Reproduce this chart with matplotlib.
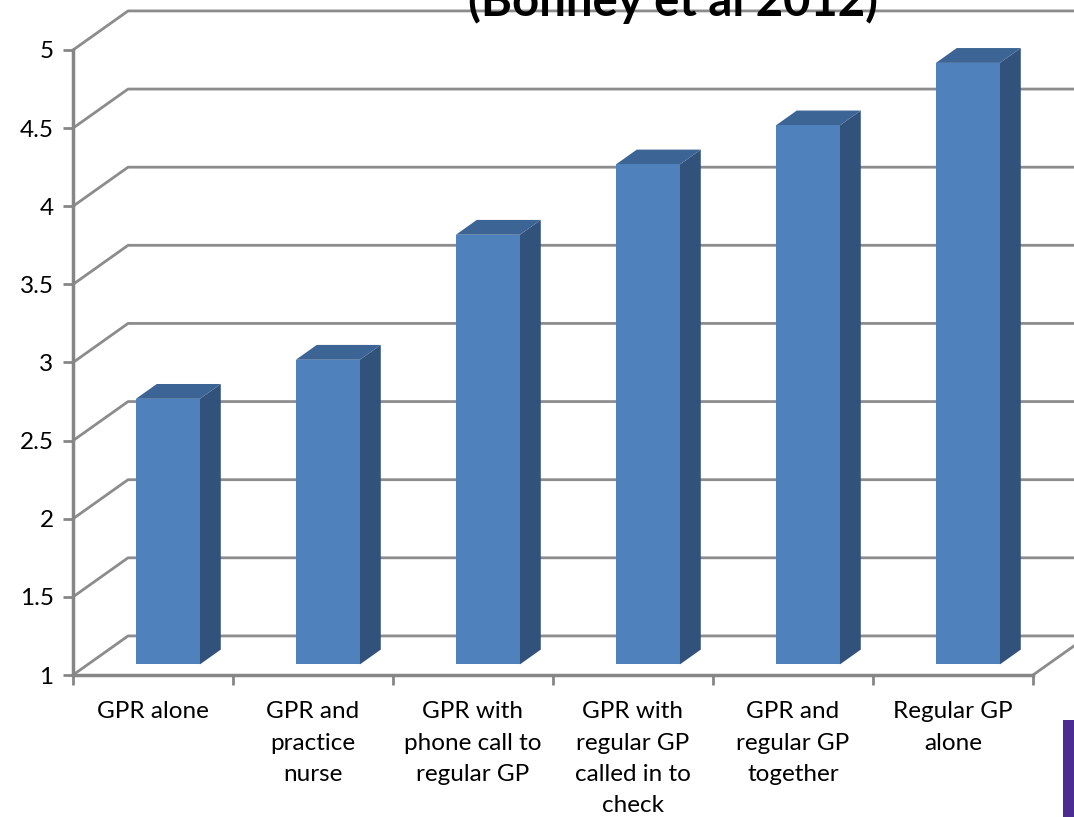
import numpy as np
import matplotlib
matplotlib.use('Agg')
import matplotlib.pyplot as plt
from matplotlib.patches import Polygon, Rectangle

plt.rcParams['font.family'] = ['Lato', 'DejaVu Sans']

# data
categories = ['GPR alone', 'GPR and\npractice\nnurse', 'GPR with\nphone call to\nregular GP',
              'GPR with\nregular GP\ncalled in to\ncheck', 'GPR and\nregular GP\ntogether',
              'Regular GP\nalone']
values = [2.7, 2.95, 3.75, 4.2, 4.45, 4.85]
yticks = [1, 1.5, 2, 2.5, 3, 3.5, 4, 4.5, 5]
ytick_labels = ['1', '1.5', '2', '2.5', '3', '3.5', '4', '4.5', '5']
title = '(Bonney et al 2012)'

W, H = 1074, 817
fig = plt.figure(figsize=(W / 100, H / 100), dpi=100)
ax = fig.add_axes([73 / W, 142 / H, 960 / W, 625 / H])
ax.set_xlim(-0.5, len(categories) - 0.5)
ax.set_ylim(1, 5)

# fake 3d depth (in data units) and colours
dx, dy = 0.344, 0.25
d_front, d_back = 0.27, 0.65
bar_w = 0.4
grid_col = '#8c8c8c'
front_col, side_col, top_col = '#4f81bd', '#31527b', '#3c6494'

# walls: gridlines on left wall and back wall
for v in yticks:
    ax.plot([-0.5, -0.5 + dx, 7], [v, v + dy, v + dy], color=grid_col, lw=2,
            clip_on=False, zorder=1, solid_capstyle='butt')
# floor right edge
n = len(categories)
ax.plot([n - 0.5, n - 0.5 + dx], [1, 1 + dy], color=grid_col, lw=2, clip_on=False, zorder=1)

# bars
for i, v in enumerate(values):
    xl = i - bar_w / 2 + d_front * dx
    xr = xl + bar_w
    y0 = 1 + d_front * dy
    y1 = v + d_front * dy
    ddx = (d_back - d_front) * dx
    ddy = (d_back - d_front) * dy
    ax.add_patch(Polygon([(xr, y0), (xr + ddx, y0 + ddy), (xr + ddx, y1 + ddy), (xr, y1)],
                         closed=True, fc=side_col, ec='none', zorder=3, clip_on=False))
    ax.add_patch(Polygon([(xl, y1), (xr, y1), (xr + ddx, y1 + ddy), (xl + ddx, y1 + ddy)],
                         closed=True, fc=top_col, ec='none', zorder=3, clip_on=False))
    ax.add_patch(Rectangle((xl, y0), bar_w, y1 - y0, fc=front_col, ec='none', zorder=4,
                           clip_on=False))

# axes styling
for s in ['top', 'right']:
    ax.spines[s].set_visible(False)
for s in ['left', 'bottom']:
    ax.spines[s].set_color('#868686')
    ax.spines[s].set_linewidth(2.5)
    ax.spines[s].set_zorder(5)
ax.set_yticks(yticks)
ax.set_yticklabels(ytick_labels, fontsize=17.5)
ax.set_xticks(np.arange(-0.5, n, 1.0))
ax.set_xticklabels([])
ax.set_xticks(np.arange(n), minor=True)
ax.set_xticklabels(categories, minor=True, fontsize=17.5, linespacing=1.6, va='top')
ax.tick_params(axis='both', which='major', color='#868686', width=2, length=7)
ax.tick_params(axis='x', which='minor', length=0, pad=19)
ax.tick_params(axis='y', pad=7)
ax.patch.set_visible(False)

# title, cut off at the top like the slide
fig.text(673 / W, (H - 16) / H, title, ha='center', va='baseline', fontsize=34,
         fontweight='bold', zorder=10)

# purple slide decoration at bottom right
fig.patches.append(Rectangle((1063 / W, 0), 11 / W, 97 / H, transform=fig.transFigure,
                             fc='#4b2c91', ec='none'))

fig.savefig('out.png', dpi=100)
